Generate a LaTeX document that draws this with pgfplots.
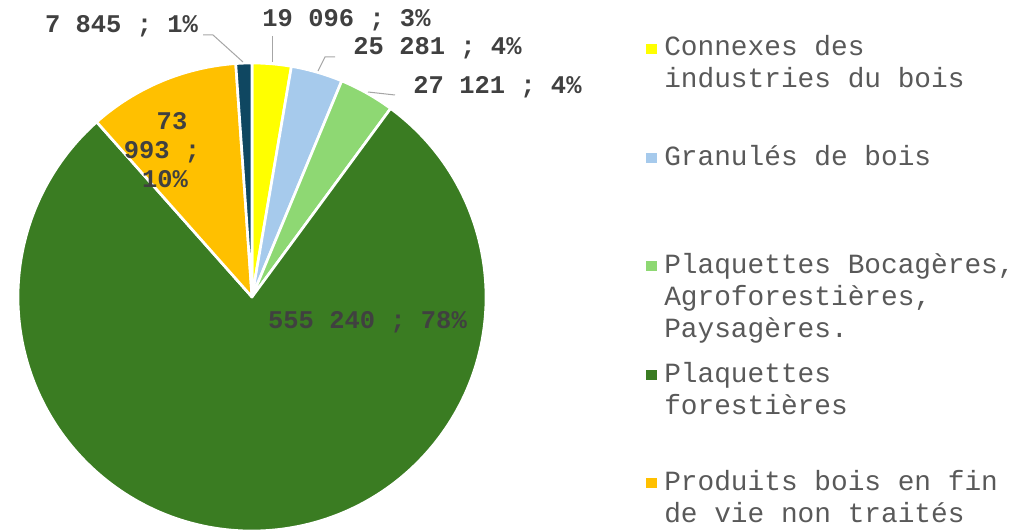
\documentclass[border=0pt]{standalone}
\usepackage{pgfplots}
\pgfplotsset{compat=1.18}
\usepackage{pgfplotstable}
\usepackage{fontspec}
\setmainfont{Liberation Mono}

\definecolor{cYellow}{HTML}{FFFF00}
\definecolor{cBlue}{HTML}{A6CAEC}
\definecolor{cLightGreen}{HTML}{8ED873}
\definecolor{cDarkGreen}{HTML}{3A7C22}
\definecolor{cOrange}{HTML}{FFC000}
\definecolor{cNavy}{HTML}{0F4761}
\definecolor{labelgray}{HTML}{404040}
\definecolor{legendgray}{HTML}{595959}
\definecolor{leadergray}{HTML}{A6A6A6}

\tikzset{
  lbl/.style={anchor=base, inner sep=0pt, text=labelgray,
    font=\fontsize{19.1}{21.75}\selectfont\bfseries},
  legtxt/.style={anchor=base west, inner sep=0pt, text=legendgray,
    font=\fontsize{20.85}{24}\selectfont},
}
% legend entry: colour, first baseline (px), text
\newcommand\legentry[3]{%
  \fill[#1] (axis cs:646,#2-12) rectangle (axis cs:657,#2-2);
  \node[legtxt] at (axis cs:664,#2) {\parbox[t]{290pt}{#3}};
}

% tonnes per source, clockwise from 12 o'clock
\pgfplotstableread{
name value color
Connexes 19096 cYellow
Granules 25281 cBlue
Bocageres 27121 cLightGreen
Forestieres 555240 cDarkGreen
Produits 73993 cOrange
Autres 7845 cNavy
}\piedata

% geometry in pixels of the 1033x531 frame (1px = 0.75pt)
\def\cx{252}\def\cy{297}\def\rpt{175.5pt}

\begin{document}
\begin{tikzpicture}
\gdef\pietotal{0}
\pgfplotstableforeachcolumnelement{value}\of\piedata\as\pval{\xdef\pietotal{\fpeval{\pietotal+\pval}}}
\gdef\piecum{0}\gdef\piecmds{}
\pgfplotstablegetrowsof{\piedata}\pgfmathtruncatemacro\nrows{\pgfplotsretval-1}
\foreach \r in {0,...,\nrows}{
  \pgfplotstablegetelem{\r}{value}\of\piedata \let\pval\pgfplotsretval
  \pgfplotstablegetelem{\r}{color}\of\piedata \let\pcol\pgfplotsretval
  \xdef\aone{\fpeval{90-360*\piecum/\pietotal}}
  \xdef\piecum{\fpeval{\piecum+\pval}}
  \xdef\atwo{\fpeval{90-360*\piecum/\pietotal}}
  \xdef\piecmds{\unexpanded\expandafter{\piecmds}\noexpand\fill[fill=\pcol,draw=white,line width=2pt,line join=round] (axis cs:\cx,\cy) -- ++(\aone:\rpt) arc[start angle=\aone,end angle=\atwo,radius=\rpt] -- cycle;}
}
\begin{axis}[
    scale only axis,
    width=774.75pt,
    height=398.25pt,
    xmin=0, xmax=1033,
    ymin=0, ymax=531,
    y dir=reverse,
    hide axis,
    clip=false,
]
\piecmds

% legend
\legentry{cYellow}{56}{Connexes des\\industries du bois}
\legentry{cBlue}{165}{Granulés de bois}
\legentry{cLightGreen}{273}{Plaquettes Bocagères,\\Agroforestières,\\Paysagères.}
\legentry{cDarkGreen}{382}{Plaquettes\\forestières}
\legentry{cOrange}{490}{Produits bois en fin\\de vie non traités}

% leader lines
\draw[leadergray, line width=0.75pt] (axis cs:203,35) -- (axis cs:213,35) -- (axis cs:243,62);
\draw[leadergray, line width=0.75pt] (axis cs:272,36) -- (axis cs:272,62);
\draw[leadergray, line width=0.75pt] (axis cs:335,57) -- (axis cs:325,57) -- (axis cs:318,71);
\draw[leadergray, line width=0.75pt] (axis cs:395,95) -- (axis cs:368,92);

% data labels
\node[lbl] at (axis cs:121.5,33) {7 845 ; 1\%};
\node[lbl] at (axis cs:346.5,27) {19 096 ; 3\%};
\node[lbl] at (axis cs:437.5,55) {25 281 ; 4\%};
\node[lbl] at (axis cs:497.5,94) {27 121 ; 4\%};
\node[lbl] at (axis cs:367.5,328) {555 240 ; 78\%};
\node[lbl] at (axis cs:172,130) {73};
\node[lbl] at (axis cs:162,158) {993 ;};
\node[lbl] at (axis cs:165,187) {10\%};
\end{axis}
\pgfresetboundingbox
\path (current axis.south west) rectangle (current axis.north east);
\end{tikzpicture}
\end{document}
